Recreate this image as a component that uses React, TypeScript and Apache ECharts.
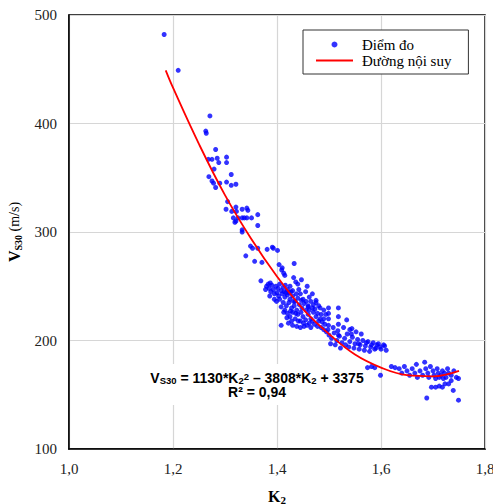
import { useEffect, useRef } from "react";
import * as echarts from "echarts";

// Axis ranges / ticks
const xMin = 1.0;
const xMax = 1.8;
const xStep = 0.2;
const yMin = 100;
const yMax = 500;
const yStep = 100;

const pointsSteep: [number, number][] = [
  [1.183, 482], [1.210, 449], [1.271, 407], [1.263, 393], [1.264, 391], [1.282, 376],
  [1.268, 367], [1.275, 367], [1.285, 368], [1.288, 364], [1.303, 369], [1.303, 364],
  [1.279, 358], [1.269, 351], [1.275, 347], [1.278, 345], [1.282, 341], [1.290, 345],
  [1.303, 346], [1.312, 353], [1.312, 343], [1.321, 344], [1.305, 328], [1.302, 321],
  [1.313, 319], [1.321, 323], [1.322, 319], [1.316, 313], [1.321, 310], [1.325, 313],
  [1.333, 321], [1.342, 322], [1.344, 320], [1.333, 313], [1.342, 313], [1.351, 313],
  [1.319, 309], [1.333, 302], [1.333, 300], [1.337, 313], [1.363, 316], [1.363, 306],
  [1.349, 287], [1.353, 285], [1.363, 285], [1.381, 284], [1.393, 285], [1.401, 283],
  [1.340, 278], [1.357, 273], [1.371, 272], [1.404, 270], [1.433, 271], [1.410, 267],
  [1.409, 265], [1.413, 262], [1.415, 260], [1.369, 255], [1.387, 253], [1.391, 286],
];

const pointsCluster: [number, number][] = [
  [1.380, 250], [1.385, 248], [1.390, 251], [1.393, 247], [1.398, 250], [1.402, 248],
  [1.405, 252], [1.408, 246], [1.412, 249], [1.416, 251], [1.420, 247], [1.425, 250],
  [1.430, 246], [1.388, 245], [1.395, 243], [1.400, 244], [1.378, 247], [1.383, 252],
  [1.410, 243], [1.415, 240], [1.420, 242], [1.425, 238], [1.430, 241], [1.435, 236],
  [1.440, 239], [1.445, 243], [1.450, 238], [1.405, 238], [1.412, 235], [1.418, 232],
  [1.423, 235], [1.428, 230], [1.433, 232], [1.438, 228], [1.443, 233], [1.448, 230],
  [1.452, 234], [1.456, 228], [1.460, 232], [1.465, 236], [1.470, 233], [1.475, 237],
  [1.480, 232], [1.415, 228], [1.420, 225], [1.425, 222], [1.430, 226], [1.435, 220],
  [1.440, 224], [1.445, 218], [1.450, 222], [1.455, 219], [1.460, 224], [1.465, 220],
  [1.470, 226], [1.475, 222], [1.480, 218], [1.485, 224], [1.490, 220], [1.422, 216],
  [1.430, 214], [1.438, 213], [1.445, 212], [1.452, 213], [1.458, 214], [1.465, 212],
  [1.472, 215], [1.478, 213], [1.485, 212], [1.408, 214], [1.492, 215], [1.498, 210],
  [1.455, 245], [1.462, 240], [1.468, 243], [1.475, 235], [1.458, 250], [1.447, 256],
  [1.440, 252], [1.432, 258], [1.436, 254], [1.483, 230], [1.483, 220], [1.460, 231],
  [1.499, 230], [1.499, 225], [1.499, 220], [1.499, 214], [1.518, 230], [1.518, 222],
  [1.518, 215], [1.518, 205], [1.534, 219], [1.544, 211], [1.427, 245], [1.437, 243],
  [1.442, 247], [1.417, 244], [1.395, 238], [1.428, 218], [1.462, 216], [1.490, 228],
  [1.403, 241], [1.408, 231], [1.413, 226], [1.419, 221], [1.426, 227], [1.432, 236],
  [1.436, 225], [1.441, 218], [1.446, 226], [1.451, 216], [1.456, 236], [1.462, 228],
  [1.468, 218], [1.473, 229], [1.478, 225], [1.487, 217], [1.494, 224], [1.386, 241],
  [1.399, 236], [1.414, 245], [1.423, 244], [1.447, 237], [1.468, 230], [1.508, 212],
];

const pointsBand: [number, number][] = [
  [1.500, 205], [1.505, 202], [1.510, 207], [1.515, 200], [1.520, 204], [1.525, 198],
  [1.530, 202], [1.535, 206], [1.540, 199], [1.545, 203], [1.550, 197], [1.555, 201],
  [1.560, 196], [1.565, 200], [1.570, 195], [1.575, 199], [1.580, 194], [1.585, 198],
  [1.590, 193], [1.595, 197], [1.600, 192], [1.605, 196], [1.610, 191], [1.512, 196],
  [1.522, 193], [1.538, 194], [1.548, 193], [1.558, 192], [1.568, 191], [1.578, 190],
  [1.588, 192], [1.598, 194], [1.582, 196], [1.607, 195], [1.503, 197], [1.495, 208],
  [1.490, 210], [1.528, 212], [1.540, 210], [1.552, 208], [1.562, 206], [1.517, 209],
  [1.532, 196], [1.543, 206], [1.557, 197], [1.572, 198], [1.592, 196],
];

const pointsTail: [number, number][] = [
  [1.574, 175], [1.582, 176], [1.588, 175], [1.599, 168], [1.620, 176], [1.627, 175],
  [1.635, 174], [1.640, 170], [1.645, 176], [1.650, 172], [1.655, 168], [1.660, 174],
  [1.665, 170], [1.668, 178], [1.670, 166], [1.675, 172], [1.680, 168], [1.684, 180],
  [1.686, 174], [1.690, 170], [1.692, 166], [1.695, 176], [1.700, 172], [1.702, 168],
  [1.705, 165], [1.708, 174], [1.710, 170], [1.712, 166], [1.715, 168], [1.718, 172],
  [1.720, 165], [1.722, 170], [1.725, 166], [1.728, 174], [1.730, 170], [1.735, 168],
  [1.740, 172], [1.745, 166], [1.697, 157], [1.705, 157], [1.712, 158], [1.718, 157],
  [1.723, 160], [1.730, 160], [1.735, 163], [1.688, 147], [1.739, 154], [1.749, 165],
  [1.749, 145],
];

// Fitted curve
const fitK = [1.186, 1.2, 1.25, 1.3, 1.35, 1.4, 1.45, 1.5, 1.55, 1.6, 1.65, 1.7, 1.75];
const fitV = [449, 433, 381, 334, 294, 259, 229, 206, 187, 175, 168, 167, 172];

const seriesNames = ["Điểm đo", "Đường nội suy"];

const serif = "'Liberation Serif', 'Times New Roman', serif";
const sans = "'Liberation Sans', Arial, sans-serif";

export default function App() {
  const ref = useRef<HTMLDivElement>(null);

  useEffect(() => {
    if (!ref.current) return;
    const chart = echarts.init(ref.current, null, { renderer: "svg" });
    const measured = [...pointsSteep, ...pointsCluster, ...pointsBand, ...pointsTail];
    const fit = fitK.map((k, i) => [k, fitV[i]]);
    const fmt = (v: number) => v.toFixed(1).replace(".", ",");

    chart.setOption({
      animation: false,
      backgroundColor: "#fff",
      grid: {
        left: 69,
        top: 15,
        width: 416,
        height: 434,
        show: true,
        borderColor: "#000",
        borderWidth: 1.5,
        containLabel: false,
        outerBoundsMode: "none",
      },
      legend: {
        orient: "vertical",
        left: 303,
        top: 30,
        backgroundColor: "#fff",
        borderColor: "#333",
        borderWidth: 1,
        borderRadius: 0,
        padding: [7, 17, 6, 12],
        itemWidth: 37,
        itemHeight: 6,
        itemGap: 1,
        textStyle: { fontFamily: serif, fontSize: 15, color: "#000", padding: [0, 0, 0, 4] },
        data: [
          { name: seriesNames[0] },
          { name: seriesNames[1], itemStyle: { color: "rgba(0,0,0,0)", opacity: 0, borderWidth: 0 } },
        ],
      },
      xAxis: {
        type: "value",
        min: xMin,
        max: xMax,
        interval: xStep,
        name: "{k|K}{s|2}",
        nameLocation: "middle",
        nameGap: 38,
        nameTextStyle: {
          rich: {
            k: { fontFamily: serif, fontWeight: "bold", fontSize: 16, color: "#000", lineHeight: 18 },
            s: { fontFamily: serif, fontWeight: "bold", fontSize: 11, color: "#000", lineHeight: 8, verticalAlign: "bottom" },
          },
        },
        axisLine: { show: true, lineStyle: { color: "#000", width: 1.5 } },
        axisTick: { show: false },
        axisLabel: { fontFamily: serif, fontSize: 15, color: "#222", margin: 12, formatter: fmt },
        splitLine: { show: true, lineStyle: { color: "#d6d6d6", width: 1.2 } },
      },
      yAxis: {
        type: "value",
        min: yMin,
        max: yMax,
        interval: yStep,
        name: "{v|V}{s|S30}{u| (m/s)}",
        nameLocation: "middle",
        nameGap: 46,
        nameTextStyle: {
          rich: {
            v: { fontFamily: serif, fontWeight: "bold", fontSize: 16, color: "#000", lineHeight: 18 },
            s: { fontFamily: serif, fontWeight: "bold", fontSize: 10, color: "#000", lineHeight: 8, verticalAlign: "bottom" },
            u: { fontFamily: serif, fontWeight: "normal", fontSize: 14, color: "#000", lineHeight: 18 },
          },
        },
        axisLine: { show: true, lineStyle: { color: "#000", width: 1.5 } },
        axisTick: { show: false },
        axisLabel: { fontFamily: serif, fontSize: 15, color: "#222", margin: 12 },
        splitLine: { show: true, lineStyle: { color: "#d6d6d6", width: 1.2 } },
      },
      graphic: [
        {
          type: "text",
          x: 257,
          y: 364,
          z: 1,
          style: {
            text:
              "{b|V}{s|S30}{b| = 1130*K}{s|2}{p|2}{b| – 3808*K}{s|2}{b| + 3375}\n{b|R² = 0,94}",
            align: "center",
            verticalAlign: "top",
            backgroundColor: "#fff",
            padding: [7, 4, 6, 4],
            rich: {
              b: { fontFamily: sans, fontWeight: "bold", fontSize: 14, fill: "#000", lineHeight: 14 },
              s: { fontFamily: sans, fontWeight: "bold", fontSize: 9.5, fill: "#000", lineHeight: 6, verticalAlign: "bottom" },
              p: { fontFamily: sans, fontWeight: "bold", fontSize: 9.5, fill: "#000", lineHeight: 6, verticalAlign: "top" },
            },
          },
        },
      ],
      series: [
        {
          name: seriesNames[0],
          type: "scatter",
          data: measured,
          symbol: "circle",
          symbolSize: 5,
          itemStyle: { color: "#0000ff" },
          z: 3,
        },
        {
          name: seriesNames[1],
          type: "line",
          data: fit,
          smooth: 0.4,
          symbol: "none",
          showSymbol: false,
          lineStyle: { color: "#ff0000", width: 1.8 },
          itemStyle: { color: "#ff0000" },
          z: 4,
        },
      ],
    });

    return () => chart.dispose();
  }, []);

  return (
    <div
      ref={ref}
      style={{ position: "fixed", left: 0, top: 0, width: 493, height: 504, background: "#fff" }}
    />
  );
}
